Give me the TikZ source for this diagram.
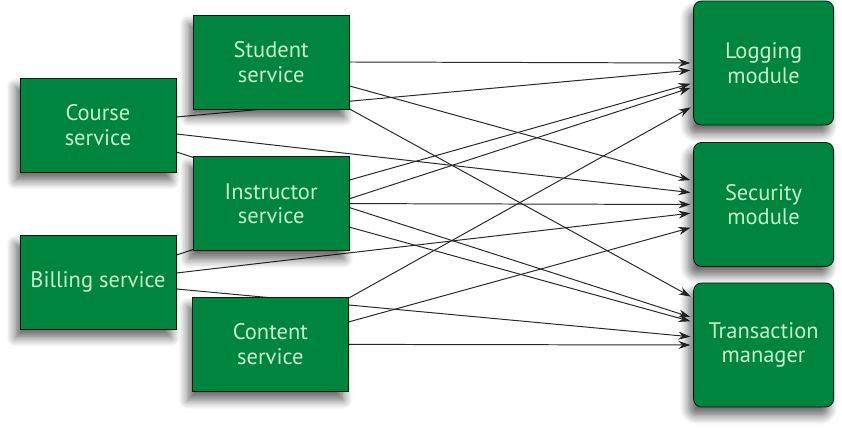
\documentclass[tikz,border=0pt]{standalone}
\usepackage{fontspec}
\setsansfont{PT Sans}
\usetikzlibrary{arrows.meta,shadows.blur}
\definecolor{boxgreen}{RGB}{0,133,62}
\definecolor{boxtext}{RGB}{200,238,200}
\definecolor{edgegray}{RGB}{40,40,40}
\pgfdeclarelayer{background}
\pgfsetlayers{background,main}

\tikzset{
  service/.style={draw=black!80!boxgreen, fill=boxgreen, text=boxtext, line width=0.6pt,
    minimum width=3.9cm, minimum height=2.35cm, align=center,
    font=\sffamily\fontsize{16}{17.5}\selectfont,
    blur shadow={shadow xshift=-0.12cm, shadow yshift=-0.22cm, shadow opacity=60,
      shadow blur radius=0.22cm, shadow blur steps=8}},
  module/.style={service, rounded corners=0.2cm, minimum width=3.5cm, minimum height=3.1cm},
  link/.style={draw=edgegray, line width=0.7pt, -{Stealth[length=0.3cm,width=0.2cm]}, shorten >=0.07cm}
}

\begin{document}
\begin{tikzpicture}
\useasboundingbox (0,0) rectangle (21.05,10.75);
\node[service] (student) at (6.78,9.2) {Student\\service};
\node[service] (course) at (2.45,7.625) {Course\\service};
\node[service] (instructor) at (6.78,5.66) {Instructor\\service};
\node[service] (billing) at (2.45,3.7) {Billing service};
\node[service] (content) at (6.76,2.14) {Content\\service};
\node[module] (log) at (19.09,9.175) {Logging\\module};
\node[module] (sec) at (19.09,5.6375) {Security\\module};
\node[module] (trans) at (19.09,2.125) {Transaction\\manager};
\begin{pgfonlayer}{background}
\foreach \s/\sy/\t/\ty in {student/0/log/0, student/-0.6/sec/0.59, student/-1.175/trans/1.175,
	course/0.2/log/-0.175, course/-0.225/sec/0.29, course/-0.675/trans/0.675,
	instructor/0.59/log/-0.5, instructor/0/sec/0, instructor/-0.59/trans/0.575,
	billing/0.675/log/-0.6, billing/0.225/sec/-0.21, billing/-0.175/trans/0.2,
	content/1.16/log/-1.075, content/0.5625/sec/-0.5625, content/0/trans/0}
	\draw[link] ([yshift=\sy cm]\s.east) -- ([yshift=\ty cm]\t.west);
\end{pgfonlayer}
\end{tikzpicture}
\end{document}
